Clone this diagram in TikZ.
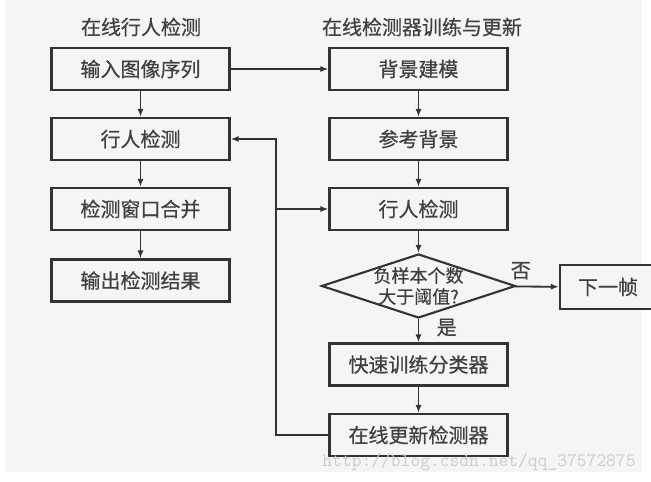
\documentclass[tikz,border=0pt]{standalone}
\usepackage{fontspec}
\setmainfont[UprightFeatures={FakeBold=0.6}]{Noto Sans CJK SC}
\usetikzlibrary{shapes.geometric,arrows.meta}
\definecolor{bggray}{HTML}{F5F5F5}
\definecolor{linegray}{HTML}{333333}
\definecolor{textgray}{HTML}{404040}
\definecolor{markgray}{HTML}{CCCCCC}
\begin{document}
\begin{tikzpicture}[x=1pt,y=-1pt,
        every node/.style={text=textgray,font=\fontsize{20}{24}\selectfont},
        stepbox/.style={draw=linegray,line width=2.1pt,fill=bggray,minimum width=178pt,minimum height=42pt,inner sep=0pt},
        decision/.style={draw=linegray,line width=2.1pt,fill=bggray,diamond,minimum width=194pt,minimum height=64pt,inner sep=0pt},
        flow/.style={draw=linegray,line width=1.8pt,-{Latex[length=8pt,width=6pt]}}]
                \useasboundingbox (0,0) rectangle (651,482);
                \clip (0,0) rectangle (651,482);
                \fill [bggray] (5,0) rectangle (642,472);
                \node (titleL) at (141,27) {在线行人检测};
                \node (titleR) at (422,27) {在线检测器训练与更新};
                \node [stepbox] (input) at (140.5,69) {输入图像序列};
                \node [stepbox] (detectL) at (140.5,139) {行人检测};
                \node [stepbox] (merge) at (140.5,209) {检测窗口合并};
                \node [stepbox] (output) at (140.5,280.5) {输出检测结果};
                \node [stepbox] (bgmodel) at (418.5,69) {背景建模};
                \node [stepbox] (refbg) at (418.5,139) {参考背景};
                \node [stepbox] (detectR) at (418.5,209) {行人检测};
                \node [decision] (judge) at (418.5,286) {};
                \node [font=\fontsize{18}{21}\selectfont,align=center] (judgetext) at (judge) {负样本个数\\大于阈值?};
                \node [stepbox,minimum width=96pt,minimum height=44pt] (nextframe) at (608,287) {下一帧};
                \node [stepbox] (train) at (418.5,364.5) {快速训练分类器};
                \node [stepbox] (update) at (418.5,435) {在线更新检测器};
                \coordinate (feed) at (276,209);
                \draw [flow] (input) -- (bgmodel);
                \draw [flow] (input) -- (detectL);
                \draw [flow] (detectL) -- (merge);
                \draw [flow] (merge) -- (output);
                \draw [flow] (bgmodel) -- (refbg);
                \draw [flow] (refbg) -- (detectR);
                \draw [flow] (detectR) -- (judge);
                \draw [flow] (judge) -- node [pos=0.13,above=3pt] {否} (nextframe);
                \draw [flow] (judge) -- node [pos=0.36,anchor=west,xshift=14pt] {是} (train);
                \draw [flow] (train) -- (update);
                \draw [flow] (update.west) -| (feed) |- (detectL.east);
                \draw [flow] (feed) -- (detectR.west);
                \node [text=markgray,font=\ttfamily\fontsize{19}{21}\selectfont] (mark) at (479,462) {http://blog.csdn.net/qq\_37572875};
            \end{tikzpicture}
\end{document}
